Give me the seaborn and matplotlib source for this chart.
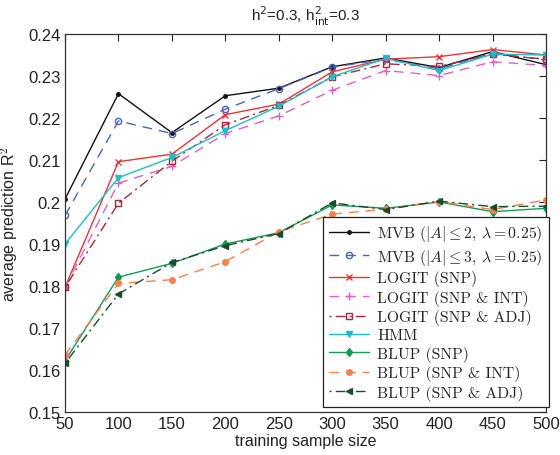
import seaborn as sns
import pandas as pd
import matplotlib.pyplot as plt
from matplotlib.ticker import FuncFormatter
from matplotlib.font_manager import FontProperties

sizes = [50, 100, 150, 200, 250, 300, 350, 400, 450, 500]

mvb2 = [0.2007, 0.2258, 0.2165, 0.2253, 0.2271, 0.2322, 0.2343, 0.2320, 0.2358, 0.2327]
mvb3 = [0.1968, 0.2193, 0.2163, 0.2221, 0.2270, 0.2321, 0.2340, 0.2317, 0.2355, 0.2338]
logit_snp = [0.1797, 0.2096, 0.2114, 0.2208, 0.2233, 0.2310, 0.2340, 0.2346, 0.2363, 0.2350]
logit_int = [0.1797, 0.2045, 0.2085, 0.2163, 0.2205, 0.2266, 0.2313, 0.2301, 0.2334, 0.2325]
logit_adj = [0.1797, 0.1997, 0.2097, 0.2184, 0.2230, 0.2298, 0.2329, 0.2323, 0.2352, 0.2340]
hmm = [0.1900, 0.2058, 0.2106, 0.2170, 0.2228, 0.2298, 0.2342, 0.2313, 0.2352, 0.2350]
blup_snp = [0.1622, 0.1821, 0.1854, 0.1900, 0.1927, 0.1993, 0.1985, 0.2000, 0.1977, 0.1985]
blup_int = [0.1636, 0.1806, 0.1815, 0.1858, 0.1929, 0.1971, 0.1983, 0.2001, 0.1982, 0.2005]
blup_adj = [0.1616, 0.1781, 0.1856, 0.1896, 0.1925, 0.1998, 0.1982, 0.2002, 0.1989, 0.1990]

labels = [r"MVB ($|A| \leq 2$, $\lambda = 0.25$)",
          r"MVB ($|A| \leq 3$, $\lambda = 0.25$)",
          "LOGIT (SNP)", "LOGIT (SNP & INT)", "LOGIT (SNP & ADJ)",
          "HMM", "BLUP (SNP)", "BLUP (SNP & INT)", "BLUP (SNP & ADJ)"]
series = [mvb2, mvb3, logit_snp, logit_int, logit_adj, hmm, blup_snp, blup_int, blup_adj]

# 样式: 颜色, 线型, 标记, 是否实心, 标记大小
styles = [
    ("#111111", "-", ".", True, 5),
    ("#4a63b8", (0, (7, 5)), "o", False, 4.5),
    ("#ee3338", "-", "x", True, 5),
    ("#e060c0", (0, (7, 5)), "+", True, 6),
    ("#a8283c", (0, (1.5, 3, 7, 3)), "s", False, 5),
    ("#22bcc4", "-", "v", True, 4.5),
    ("#169a55", "-", "d", True, 4.5),
    ("#f58050", (0, (7, 5)), "o", True, 4),
    ("#1c4a2c", (0, (1.5, 3, 7, 3)), "<", True, 4.5),
]

df = pd.DataFrame({"n": sizes * len(series),
                   "r2": [v for s in series for v in s],
                   "method": [lab for lab in labels for _ in sizes]})

sns.set_theme(style="white")
plt.rcParams['font.family'] = ['Liberation Sans', 'DejaVu Sans']
plt.rcParams['mathtext.fontset'] = 'cm'

fig = plt.figure(figsize=(5.6, 4.56), dpi=100)
ax = fig.add_axes([65 / 560, 1 - 413 / 456, 481 / 560, 378 / 456])

for lab, (c, ls, m, filled, ms) in zip(labels, styles):
    sub = df[df["method"] == lab]
    sns.lineplot(data=sub, x="n", y="r2", ax=ax, color=c, linestyle=ls,
                 marker=m, markersize=ms, linewidth=1.0, label=lab,
                 markerfacecolor=c if filled else "none", markeredgecolor=c,
                 markeredgewidth=1.0)

ax.set_xlim(50, 500)
ax.set_ylim(0.15, 0.24)
ax.set_xticks(sizes)
ax.set_yticks([0.15 + 0.01 * i for i in range(10)])
ax.yaxis.set_major_formatter(FuncFormatter(lambda v, p: "%g" % round(v, 2)))
ax.tick_params(direction="in", length=5, width=0.8, top=True, right=True,
               labelsize=12, colors="#222222", pad=3)
for sp in ax.spines.values():
    sp.set_color("#333333")
    sp.set_linewidth(0.9)

ax.set_xlabel("training sample size", fontsize=11.5, color="#222222", labelpad=1)
ax.set_ylabel("average prediction R$^2$", fontsize=11.5, color="#222222", labelpad=6)
ax.set_title(r"h$^2$=0.3, h$^2_{\mathrm{int}}$=0.3", fontsize=11, color="#222222",
             pad=10, math_fontfamily="dejavusans")

leg = ax.legend(loc="lower right", bbox_to_anchor=(1.006, 0.013),
                bbox_transform=ax.transAxes, borderaxespad=0,
                prop=FontProperties(family="cmr10", size=11.3),
                handlelength=2.5, labelspacing=0.22, handletextpad=0.55,
                borderpad=0.4, fancybox=False, framealpha=1)
leg.get_frame().set_edgecolor("#222222")
leg.get_frame().set_linewidth(0.9)

plt.savefig("out.png", dpi=100)
